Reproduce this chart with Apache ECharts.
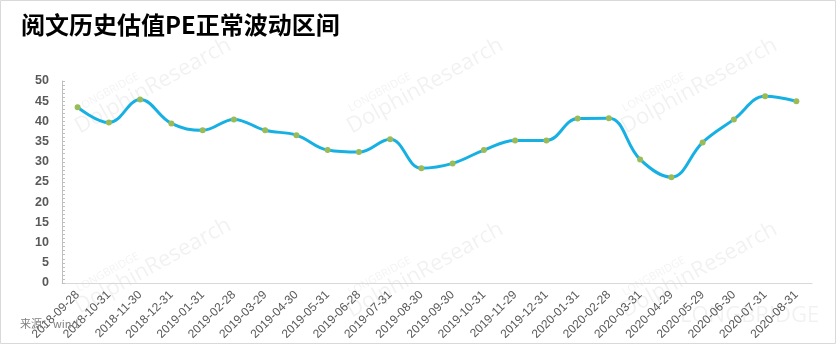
<!DOCTYPE html>
<html>
<head>
<meta charset="utf-8">
<style>
html,body{margin:0;padding:0;background:#fff;}
#c{width:836px;height:344px;}
</style>
<script src="https://cdn.jsdelivr.net/npm/echarts@6/dist/echarts.min.js"></script>
</head>
<body>
<div id="c"></div>
<script>
const categories = ['2018-09-28','2018-10-31','2018-11-30','2018-12-31','2019-01-31','2019-02-28','2019-03-29','2019-04-30','2019-05-31','2019-06-28','2019-07-31','2019-08-30','2019-09-30','2019-10-31','2019-11-29','2019-12-31','2020-01-31','2020-02-28','2020-03-31','2020-04-29','2020-05-29','2020-06-30','2020-07-31','2020-08-31'];
const peValues = [43.5,39.7,45.4,39.5,37.8,40.5,37.8,36.6,32.9,32.4,35.6,28.4,29.6,32.9,35.3,35.3,40.7,40.8,30.6,26.2,34.8,40.5,46.2,45.0];
const titleText = '阅文历史估值PE正常波动区间';
const sourceText = '来源：wind';

const chart = echarts.init(document.getElementById('c'), null, {renderer:'canvas'});
const wmColor = 'rgba(0,0,0,0.055)';
const rot = 29 * Math.PI / 180;
function wm(x, y) {
  return [
    {type:'text', x:x, y:y, rotation:rot, z:0, silent:true,
     style:{text:'DolphinResearch', font:'22px "Open Sans", sans-serif', fill:wmColor, textAlign:'left', textVerticalAlign:'bottom'}},
    {type:'text', x:x-2, y:y-24, rotation:rot, z:0, silent:true,
     style:{text:'LONGBRIDGE', font:'11px "Open Sans", sans-serif', fill:wmColor, textAlign:'left', textVerticalAlign:'bottom'}}
  ];
}
const graphics = [
  {type:'rect', shape:{x:0.5,y:0.5,width:835,height:343}, style:{fill:'none', stroke:'#d9d9d9', lineWidth:1}, silent:true, z:0},
  {type:'text', left:21, top:13, style:{text:titleText, font:'bold 24px "Noto Sans CJK SC", sans-serif', fill:'#000'}, z:10},
  {type:'text', left:20, top:318, style:{text:sourceText, font:'11px "Noto Sans CJK SC", sans-serif', fill:'#808080'}, z:10},
  {type:'text', x:680, y:327, z:0, silent:true, style:{text:'LONGBRIDGE', font:'22px "Open Sans", sans-serif', fill:wmColor, textAlign:'left', textVerticalAlign:'bottom'}}
];
[[82,138],[354,138],[628,138],[82,318],[354,322],[628,322]].forEach(p => graphics.push(...wm(p[0], p[1])));

chart.setOption({
  animation:false,
  backgroundColor:'#fff',
  graphic: graphics,
  grid:{left:62, right:24, top:81, bottom:61, containLabel:false},
  xAxis:{
    type:'category',
    data:categories,
    boundaryGap:true,
    axisLine:{lineStyle:{color:'#d9d9d9', width:1}},
    axisTick:{show:false},
    axisLabel:{rotate:45, interval:0, margin:10, color:'#595959', fontSize:12, fontFamily:'"Liberation Sans", sans-serif'}
  },
  yAxis:{
    type:'value',
    min:0, max:50, interval:5,
    splitLine:{show:false},
    axisLine:{show:true, lineStyle:{color:'#bfbfbf', width:1}},
    axisTick:{show:true, inside:true, length:3, lineStyle:{color:'#bfbfbf'}},
    minorTick:{show:true, splitNumber:5, length:3, lineStyle:{color:'#bfbfbf'}},
    axisLabel:{color:'#595959', fontSize:12.5, fontWeight:'bold', margin:13, fontFamily:'"Liberation Sans", sans-serif'}
  },
  series:[{
    type:'line',
    data:peValues,
    smooth:0.4,
    symbol:'circle',
    symbolSize:6,
    lineStyle:{color:'#17b0e3', width:3},
    itemStyle:{color:'#9bbb59', borderWidth:0},
    z:5
  }]
});
</script>
</body>
</html>
